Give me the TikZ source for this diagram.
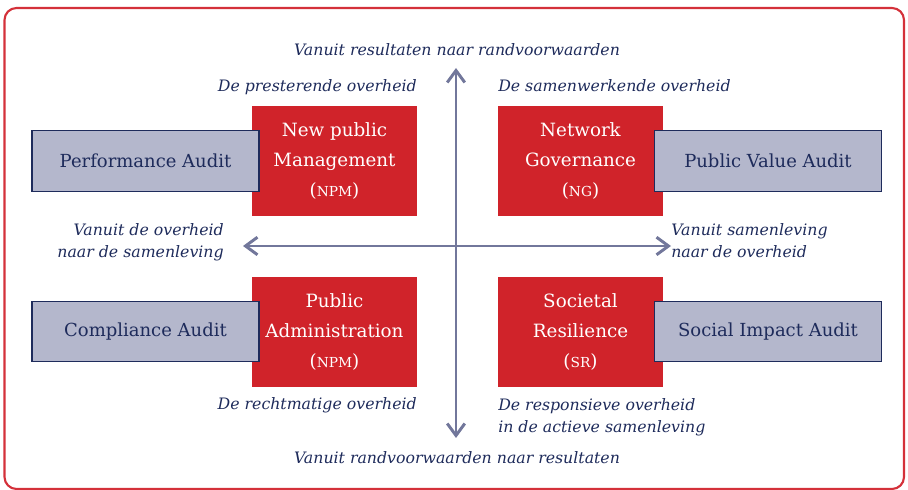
\documentclass[tikz,border=0pt]{standalone}
\usepackage{fontspec}
\setmainfont{DejaVu Serif}
\usepackage{tikz}
\usetikzlibrary{arrows.meta}
\definecolor{rood}{HTML}{D0232A}
\definecolor{kader}{HTML}{D4313A}
\definecolor{navy}{HTML}{1E2B5B}
\definecolor{grijs}{HTML}{B4B7CC}
\definecolor{asblauw}{HTML}{72779B}
\def\afk#1{{\fontsize{9.8}{12}\selectfont #1}}

\begin{document}
\begin{tikzpicture}[x=0.025cm,y=-0.025cm]
	\tikzstyle{frame}=[draw=kader, line width=1.5pt, rounded corners=0.3cm]
	\tikzstyle{model}=[fill=rood, text=white, minimum width=4.125cm, minimum height=2.75cm, inner sep=0pt, align=center, font=\fontsize{13}{21.3}\selectfont]
	\tikzstyle{audit}=[draw=navy, fill=grijs, line width=0.8pt, minimum width=5.675cm, minimum height=1.51cm, inner sep=0pt, text=navy, font=\fontsize{12.8}{15}\selectfont]
	\tikzstyle{annot}=[text=navy, inner sep=0pt, font=\fontsize{11.2}{16.3}\selectfont\itshape]
	\tikzstyle{axis}=[draw=asblauw, line width=2.1pt, {Straight Barb[length=3mm,width=4.4mm]}-{Straight Barb[length=3mm,width=4.4mm]}]

	% Draw the frame
	\useasboundingbox (0,0) rectangle (908,490);
	\draw[frame] (4.5,8) rectangle (904,489);

	% Draw the four models
	\node[model] (NPM) at (334.5,161) {New public\\Management\\(\afk{NPM})};
	\node[model] (NG) at (580.5,161) {Network\\Governance\\(\afk{NG})};
	\node[model] (PAD) at (334.5,332) {Public\\Administration\\(\afk{NPM})};
	\node[model] (SR) at (580.5,332) {Societal\\Resilience\\(\afk{SR})};

	% Draw the audit boxes
	\foreach \name / \x / \y / \txt in {PA/145.5/161/Performance Audit, PVA/768/161/Public Value Audit, CA/145.5/331.5/Compliance Audit, SIA/768/331.5/Social Impact Audit}
	\node[audit] (\name) at (\x,\y) {\txt};

	% Draw the axes
	\coordinate (top) at (456,68);
	\coordinate (bottom) at (456,438);
	\coordinate (left) at (243,246);
	\coordinate (right) at (671,246);
	\draw[axis] (bottom) -- (top);
	\draw[axis] (left) -- (right);

	% Annotate the axes and the models
	\node[annot, anchor=base] (up) at (457,56) {Vanuit resultaten naar randvoorwaarden};
	\node[annot, anchor=base] (down) at (457,464) {Vanuit randvoorwaarden naar resultaten};
	\node[annot, anchor=base east] (npm-t) at (417,92) {De presterende overheid};
	\node[annot, anchor=base west] (ng-t) at (498,92) {De samenwerkende overheid};
	\node[annot, anchor=base east] (pad-t) at (417,410) {De rechtmatige overheid};
	% base of a two-line node is the base of its last line
	\node[annot, anchor=base west, align=left] (sr-t) at (498,433) {De responsieve overheid\\in de actieve samenleving};
	\node[annot, anchor=base east, align=right] (west) at (224,258) {Vanuit de overheid\\naar de samenleving};
	\node[annot, anchor=base west, align=left] (east) at (671,258) {Vanuit samenleving\\naar de overheid};
\end{tikzpicture}
\end{document}
